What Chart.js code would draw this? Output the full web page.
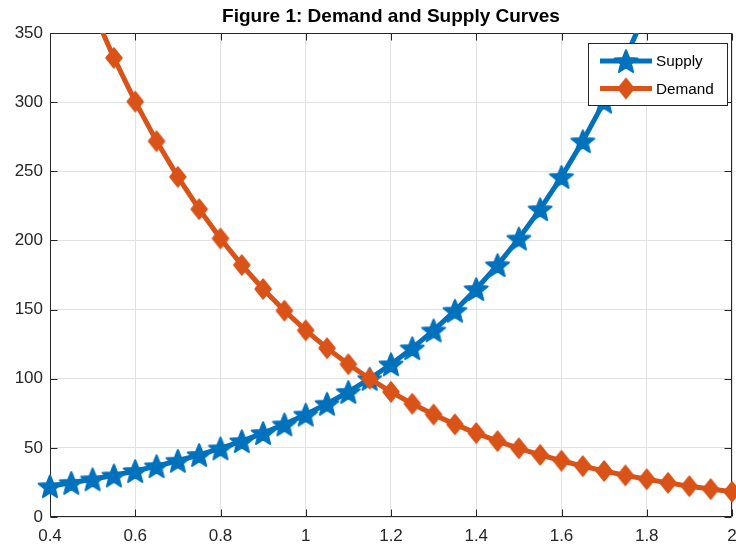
<!DOCTYPE html>
<html>
<head>
<meta charset="utf-8">
<script src="https://cdn.jsdelivr.net/npm/chart.js@4/dist/chart.umd.min.js"></script>
<style>
  html, body { margin: 0; padding: 0; background: #fff; }
  #wrap { width: 736px; height: 546px; }
</style>
</head>
<body>
<div id="wrap"><canvas id="c" width="736" height="546"></canvas></div>
<script>
// ---- Data ----
const xValues = [0.40,0.45,0.50,0.55,0.60,0.65,0.70,0.75,0.80,0.85,0.90,0.95,1.00,1.05,1.10,1.15,1.20,1.25,1.30,1.35,1.40,1.45,1.50,1.55,1.60,1.65,1.70,1.75,1.80,1.85,1.90,1.95,2.00];
const supplyValues = [22.3,24.7,27.3,30.1,33.3,36.8,40.7,44.9,49.7,54.9,60.7,67.0,74.1,81.9,90.5,100.0,110.5,122.1,135.0,149.2,164.9,182.2,201.4,222.6,246.0,271.8,300.4,332.0,366.9,405.5,448.2,495.3,547.4];
const demandValues = [448.2,405.5,366.9,332.0,300.4,271.8,246.0,222.6,201.4,182.2,164.9,149.2,135.0,122.1,110.5,100.0,90.5,81.9,74.1,67.0,60.7,54.9,49.7,44.9,40.7,36.8,33.3,30.1,27.3,24.7,22.3,20.2,18.3];
const xTicks = [0.4,0.6,0.8,1.0,1.2,1.4,1.6,1.8,2.0];
const yTicks = [0,50,100,150,200,250,300,350];
const seriesNames = ['Supply','Demand'];
const titleText = 'Figure 1: Demand and Supply Curves';

// ---- Styles ----
const BLUE = '#0072BD';
const ORANGE = '#D95319';
const AXIS = '#262626';
const GRID = '#e2e2e2';
const FONT = '"Liberation Sans", Arial, Helvetica, sans-serif';

function makeStar(color, R, ratio) {
  const size = Math.ceil(2 * R + 4);
  const c = document.createElement('canvas');
  c.width = size; c.height = size;
  const g = c.getContext('2d');
  const cx = size / 2, cy = size / 2 + R * 0.1;
  g.beginPath();
  for (let i = 0; i < 10; i++) {
    const r = (i % 2 === 0) ? R : R * ratio;
    const a = -Math.PI / 2 + i * Math.PI / 5;
    const px = cx + r * Math.cos(a), py = cy + r * Math.sin(a);
    if (i === 0) g.moveTo(px, py); else g.lineTo(px, py);
  }
  g.closePath();
  g.fillStyle = color;
  g.fill();
  g.lineJoin = 'round';
  g.lineWidth = 2;
  g.strokeStyle = color;
  g.stroke();
  return c;
}
function makeDiamond(color, hw, hh) {
  const w = Math.ceil(2 * hw + 4), h = Math.ceil(2 * hh + 4);
  const c = document.createElement('canvas');
  c.width = w; c.height = h;
  const g = c.getContext('2d');
  const cx = w / 2, cy = h / 2;
  g.beginPath();
  g.moveTo(cx, cy - hh);
  g.lineTo(cx + hw, cy);
  g.lineTo(cx, cy + hh);
  g.lineTo(cx - hw, cy);
  g.closePath();
  g.fillStyle = color;
  g.fill();
  g.lineJoin = 'round';
  g.lineWidth = 1.5;
  g.strokeStyle = color;
  g.stroke();
  return c;
}
const starImg = makeStar(BLUE, 12, 0.44);
const diamondImg = makeDiamond(ORANGE, 8, 10);

const boxPlugin = {
  id: 'matlabBox',
  beforeDatasetsDraw(chart) {
    const { ctx, chartArea: a, scales } = chart;
    ctx.save();
    ctx.strokeStyle = AXIS;
    ctx.lineWidth = 1;
    const L = Math.round(a.left) + 0.5, R = Math.round(a.right) - 0.5;
    const T = Math.round(a.top) + 0.5, B = Math.round(a.bottom) - 0.5;
    ctx.beginPath();
    ctx.rect(L, T, R - L, B - T);
    ctx.stroke();
    const tl = 7;
    ctx.beginPath();
    xTicks.forEach(v => {
      const px = Math.round(scales.x.getPixelForValue(v)) + 0.5;
      ctx.moveTo(px, B); ctx.lineTo(px, B - tl);
      ctx.moveTo(px, T); ctx.lineTo(px, T + tl);
    });
    yTicks.forEach(v => {
      const py = Math.round(scales.y.getPixelForValue(v)) + 0.5;
      ctx.moveTo(L, py); ctx.lineTo(L + tl, py);
      ctx.moveTo(R, py); ctx.lineTo(R - tl, py);
    });
    ctx.stroke();
    ctx.restore();
  },
  afterDraw(chart) {
    const { ctx, chartArea: a } = chart;
    ctx.save();
    // title
    ctx.fillStyle = '#000';
    ctx.font = 'bold 19px ' + FONT;
    ctx.textAlign = 'center';
    ctx.textBaseline = 'middle';
    ctx.fillText(titleText, (a.left + a.right) / 2, 17);
    // legend
    const bx = 588.5, by = 43.5, bw = 139, bh = 62;
    ctx.fillStyle = '#fff';
    ctx.fillRect(bx, by, bw, bh);
    ctx.strokeStyle = AXIS;
    ctx.lineWidth = 1;
    ctx.strokeRect(bx, by, bw, bh);
    const rows = [
      { name: seriesNames[0], color: BLUE, img: starImg, y: 61 },
      { name: seriesNames[1], color: ORANGE, img: diamondImg, y: 88.5 }
    ];
    rows.forEach(r => {
      ctx.strokeStyle = r.color;
      ctx.lineWidth = 5;
      ctx.beginPath();
      ctx.moveTo(600, r.y); ctx.lineTo(652, r.y);
      ctx.stroke();
      ctx.drawImage(r.img, 626 - r.img.width / 2, r.y - r.img.height / 2);
      ctx.fillStyle = '#000';
      ctx.font = '15.3px ' + FONT;
      ctx.textAlign = 'left';
      ctx.textBaseline = 'middle';
      ctx.fillText(r.name, 656, r.y + 1);
    });
    ctx.restore();
  }
};

const clipSides = { left: false, top: 0, right: false, bottom: false };

new Chart(document.getElementById('c'), {
  type: 'line',
  data: {
    datasets: [
      {
        label: seriesNames[0],
        data: xValues.map((x, i) => ({ x, y: supplyValues[i] })),
        borderColor: BLUE,
        backgroundColor: BLUE,
        borderWidth: 5,
        tension: 0,
        pointStyle: starImg,
        pointRadius: 12,
        pointHoverRadius: 12,
        clip: clipSides,
        order: 1
      },
      {
        label: seriesNames[1],
        data: xValues.map((x, i) => ({ x, y: demandValues[i] })),
        borderColor: ORANGE,
        backgroundColor: ORANGE,
        borderWidth: 5,
        tension: 0,
        pointStyle: diamondImg,
        pointRadius: 10,
        pointHoverRadius: 10,
        clip: clipSides,
        order: 0
      }
    ]
  },
  options: {
    responsive: false,
    animation: false,
    layout: { autoPadding: false, padding: { top: 33, right: 4, left: 0, bottom: 0 } },
    plugins: {
      legend: { display: false },
      title: { display: false },
      tooltip: { enabled: false }
    },
    scales: {
      x: {
        type: 'linear',
        min: 0.4, max: 2,
        afterBuildTicks: s => { s.ticks = xTicks.map(v => ({ value: v })); },
        afterFit: s => { s.height = 29; s.paddingLeft = 0; s.paddingRight = 0; },
        grid: { color: GRID, lineWidth: 1, drawTicks: false },
        border: { display: false },
        ticks: {
          color: AXIS,
          font: { family: FONT, size: 17 },
          padding: 9,
          maxRotation: 0,
          callback: v => String(+v.toFixed(1))
        }
      },
      y: {
        type: 'linear',
        min: 0, max: 350,
        afterBuildTicks: s => { s.ticks = yTicks.map(v => ({ value: v })); },
        afterFit: s => { s.width = 50; s.paddingTop = 0; s.paddingBottom = 0; },
        grid: { color: GRID, lineWidth: 1, drawTicks: false },
        border: { display: false },
        ticks: {
          color: AXIS,
          font: { family: FONT, size: 17 },
          padding: 7,
          callback: v => String(v)
        }
      }
    }
  },
  plugins: [boxPlugin]
});
</script>
</body>
</html>
